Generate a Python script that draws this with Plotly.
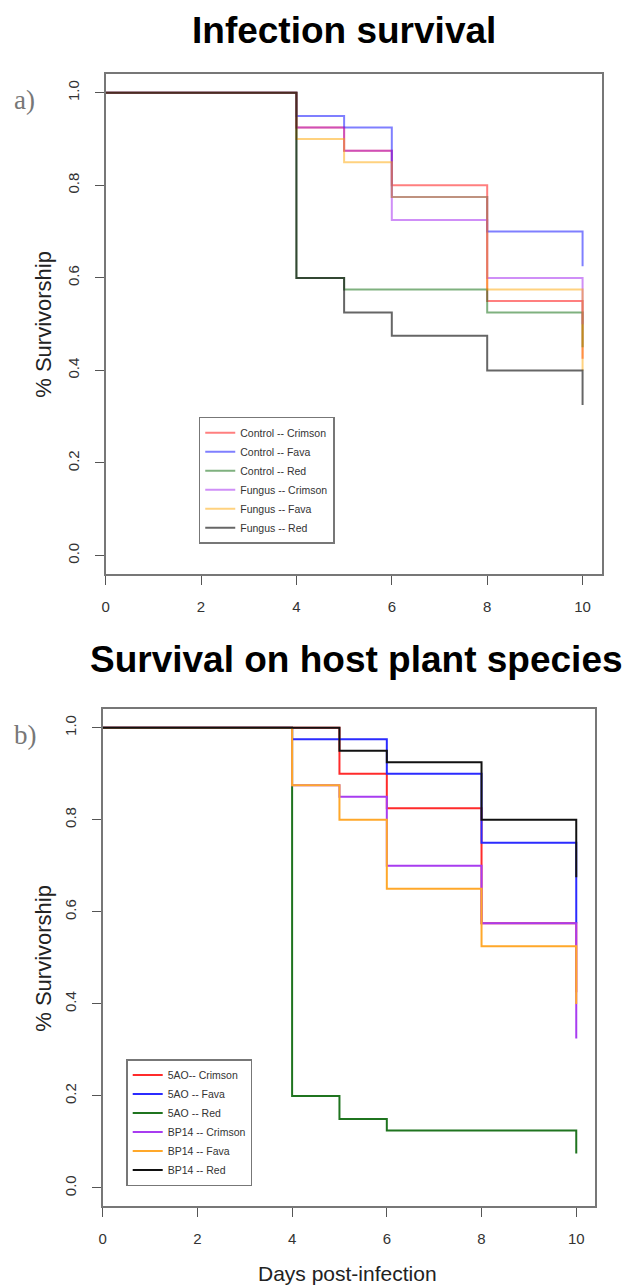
import plotly.graph_objects as go

# ---------------- data ----------------
days = [0, 4, 5, 6, 8, 10]

# Panel a) Infection survival
inf_names = ["Control -- Crimson", "Control -- Fava", "Control -- Red",
             "Fungus -- Crimson", "Fungus -- Fava", "Fungus -- Red"]
inf_control_crimson = [1.0, 0.925, 0.875, 0.800, 0.550, 0.425]
inf_control_fava = [1.0, 0.950, 0.925, 0.775, 0.700, 0.625]
inf_control_red = [1.0, 0.600, 0.575, 0.575, 0.525, 0.450]
inf_fungus_crimson = [1.0, 0.925, 0.875, 0.725, 0.600, 0.500]
inf_fungus_fava = [1.0, 0.900, 0.850, 0.775, 0.575, 0.400]
inf_fungus_red = [1.0, 0.600, 0.525, 0.475, 0.400, 0.325]

# Panel b) Survival on host plant species
host_names = ["5AO-- Crimson", "5AO -- Fava", "5AO -- Red",
              "BP14 -- Crimson", "BP14 -- Fava", "BP14 -- Red"]
host_5ao_crimson = [1.0, 1.000, 0.900, 0.825, 0.575, 0.425]
host_5ao_fava = [1.0, 0.975, 0.975, 0.900, 0.750, 0.575]
host_5ao_red = [1.0, 0.200, 0.150, 0.125, 0.125, 0.075]
host_bp14_crimson = [1.0, 0.875, 0.850, 0.700, 0.575, 0.325]
host_bp14_fava = [1.0, 0.875, 0.800, 0.650, 0.525, 0.400]
host_bp14_red = [1.0, 1.000, 0.950, 0.925, 0.800, 0.675]

x_ticks = [0, 2, 4, 6, 8, 10]
y_ticks = [0.0, 0.2, 0.4, 0.6, 0.8, 1.0]

# ---------------- styles ----------------
inf_colors = ["rgba(255,0,0,0.5)", "rgba(0,0,255,0.5)", "rgba(0,100,0,0.5)",
              "rgba(160,32,240,0.5)", "rgba(255,165,0,0.5)", "rgba(0,0,0,0.6)"]
host_colors = ["#ff2b2b", "#2b2bff", "#1f741f", "#a83cf0", "#ffa82a", "#111111"]

W, H = 626, 1285
FONT = "Liberation Sans, Arial, sans-serif"

fig = go.Figure()

inf_series = [inf_control_crimson, inf_control_fava, inf_control_red,
              inf_fungus_crimson, inf_fungus_fava, inf_fungus_red]
host_series = [host_5ao_crimson, host_5ao_fava, host_5ao_red,
               host_bp14_crimson, host_bp14_fava, host_bp14_red]

for name, vals, col in zip(inf_names, inf_series, inf_colors):
    fig.add_trace(go.Scatter(x=days, y=vals, name=name, mode="lines",
                             line=dict(color=col, width=2, shape="hv"),
                             xaxis="x", yaxis="y", legend="legend"))
for name, vals, col in zip(host_names, host_series, host_colors):
    fig.add_trace(go.Scatter(x=days, y=vals, name=name, mode="lines",
                             line=dict(color=col, width=2, shape="hv"),
                             xaxis="x2", yaxis="y2", legend="legend2"))


def px_dom_x(a, b):
    return [a / W, b / W]


def px_dom_y(top, bottom):
    return [1 - bottom / H, 1 - top / H]


axis_common = dict(showline=True, mirror=True, linecolor="#777", linewidth=1.5,
                   showgrid=False, zeroline=False, ticks="outside", ticklen=9,
                   tickwidth=1.3, tickcolor="#555",
                   tickfont=dict(family=FONT, size=15, color="#333"))

legend_common = dict(xanchor="left", yanchor="top", bgcolor="white",
                     bordercolor="#777", borderwidth=1.5,
                     font=dict(family=FONT, size=10.5, color="#333"),
                     itemwidth=30, tracegroupgap=0)

fig.update_layout(
    width=W, height=H, margin=dict(l=0, r=0, t=0, b=0),
    paper_bgcolor="white", plot_bgcolor="white",
    xaxis=dict(domain=px_dom_x(102.3, 601.5), range=[0, 10.4], tickvals=x_ticks,
               anchor="y", ticklabelstandoff=9, **axis_common),
    yaxis=dict(domain=px_dom_y(74.3, 574), range=[-0.04, 1.04], tickvals=y_ticks,
               tickformat=".1f", tickangle=-90, anchor="x", ticklabelstandoff=10,
               **axis_common),
    xaxis2=dict(domain=px_dom_x(99.3, 595), range=[0, 10.4], tickvals=x_ticks,
                anchor="y2", ticklabelstandoff=9, **axis_common),
    yaxis2=dict(domain=px_dom_y(709.3, 1206.4), range=[-0.04, 1.04], tickvals=y_ticks,
                tickformat=".1f", tickangle=-90, anchor="x2", ticklabelstandoff=10,
                **axis_common),
    legend=dict(x=196 / W, y=1 - 416.7 / H, **legend_common),
    legend2=dict(x=123 / W, y=1 - 1059 / H, **legend_common),
    showlegend=True,
)

annots = [
    dict(text="<b>Infection survival</b>", x=342 / W, y=1 - 30 / H,
         font=dict(family=FONT, size=37, color="black")),
    dict(text="<b>Survival on host plant species</b>", x=355 / W, y=1 - 660 / H,
         font=dict(family=FONT, size=37, color="black")),
    dict(text="% Survivorship", x=39 / W, y=1 - 324 / H, textangle=-90,
         font=dict(family=FONT, size=22, color="#222")),
    dict(text="% Survivorship", x=39 / W, y=1 - 958 / H, textangle=-90,
         font=dict(family=FONT, size=22, color="#222")),
    dict(text="Days post-infection", x=346 / W, y=1 - 1273 / H,
         font=dict(family=FONT, size=21, color="#222")),
    dict(text="a)", x=21 / W, y=1 - 100 / H,
         font=dict(family="Liberation Serif, Times New Roman, serif", size=27, color="#777")),
    dict(text="b)", x=22 / W, y=1 - 735 / H,
         font=dict(family="Liberation Serif, Times New Roman, serif", size=27, color="#777")),
]
for a in annots:
    fig.add_annotation(xref="paper", yref="paper", showarrow=False,
                       xanchor="center", yanchor="middle", **a)

fig.write_html("out.html")
